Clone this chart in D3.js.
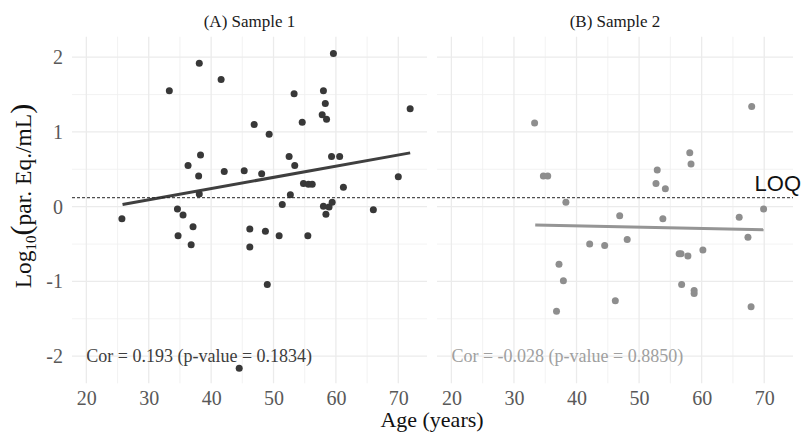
<!DOCTYPE html>
<html>
<head>
<meta charset="utf-8">
<script src="https://cdn.jsdelivr.net/npm/d3@7"></script>
<style>
  body { margin: 0; background: #fff; }
  svg { display: block; }
</style>
</head>
<body>
<script>
// data
var ageA = [33.3, 38.1, 41.6, 59.6, 71.9, 46.9, 49.3, 53.3, 54.6, 58.0, 58.3, 57.8, 58.5,
            36.3, 38.3, 38.0, 38.1, 42.1, 45.3, 48.1, 52.5, 53.4, 54.8, 55.6, 56.2,
            52.7, 51.4, 59.3, 60.6, 61.2, 70.0, 58.0, 58.9, 59.4, 58.4, 66.0, 25.7,
            34.6, 35.5, 34.7, 37.1, 36.8, 46.2, 46.2, 48.7, 50.9, 55.5, 49.0, 44.5];
var logA = [1.55, 1.92, 1.70, 2.05, 1.31, 1.10, 0.97, 1.51, 1.13, 1.55, 1.38, 1.23, 1.17,
            0.55, 0.69, 0.41, 0.17, 0.47, 0.48, 0.44, 0.67, 0.55, 0.31, 0.30, 0.30,
            0.16, 0.03, 0.67, 0.67, 0.26, 0.40, 0.005, -0.004, 0.06, -0.10, -0.04, -0.16,
            -0.03, -0.11, -0.39, -0.27, -0.51, -0.30, -0.54, -0.33, -0.39, -0.39, -1.04, -2.16];

var ageB = [33.3, 34.7, 35.4, 38.3, 68.0, 58.1, 58.3, 52.9, 52.7, 54.2, 69.9, 46.9, 53.8, 66.0,
            42.1, 44.5, 48.1, 67.4, 56.4, 56.7, 57.8, 60.2, 37.2, 37.9, 46.2, 36.8, 56.8,
            58.8, 58.8, 67.9];
var logB = [1.12, 0.41, 0.41, 0.06, 1.34, 0.72, 0.57, 0.49, 0.31, 0.24, -0.03, -0.12, -0.16, -0.14,
            -0.50, -0.52, -0.44, -0.41, -0.63, -0.63, -0.66, -0.58, -0.77, -0.99, -1.26, -1.40, -1.04,
            -1.12, -1.16, -1.34];

// fitted line ends
var fitAgeA = [25.8, 71.9], fitLogA = [0.03, 0.72];
var fitAgeB = [33.4, 69.9], fitLogB = [-0.245, -0.31];

var panelTitles = ["(A) Sample 1", "(B) Sample 2"];
var corLabels = ["Cor = 0.193 (p-value = 0.1834)", "Cor = -0.028 (p-value = 0.8850)"];
var xTicks = [20, 30, 40, 50, 60, 70];
var xMinor = [25, 35, 45, 55, 65];
var yTicks = [-2, -1, 0, 1, 2];
var yMinor = [-1.5, -0.5, 0.5, 1.5];
var loq = 0.12;

var svgWidth = 803, svgHeight = 434;
var svg = d3.select("body").append("svg").attr("width", svgWidth).attr("height", svgHeight);

var plotTop = 36.7, plotBottom = 383.3;
var panelX = [[72, 427], [437, 793]];
var y = d3.scaleLinear().domain([-2.363, 2.274]).range([plotBottom, plotTop]);

var panels = [
  {age: ageA, val: logA, fa: fitAgeA, fv: fitLogA, col: "#383838", line: "#3f3f3f", txt: "#3d3d3d"},
  {age: ageB, val: logB, fa: fitAgeB, fv: fitLogB, col: "#8e8e8e", line: "#959595", txt: "#a0a0a0"}
];

panels.forEach(function(p, i) {
  var x = d3.scaleLinear().domain([17.7, 74.6]).range(panelX[i]);
  var g = svg.append("g");

  // grid
  g.selectAll(".vminor").data(xMinor).enter().append("line")
    .attr("x1", x).attr("x2", x).attr("y1", plotTop).attr("y2", plotBottom)
    .attr("stroke", "#efefef").attr("stroke-width", 0.8);
  g.selectAll(".hminor").data(yMinor).enter().append("line")
    .attr("x1", panelX[i][0]).attr("x2", panelX[i][1]).attr("y1", y).attr("y2", y)
    .attr("stroke", "#efefef").attr("stroke-width", 0.8);
  g.selectAll(".vmajor").data(xTicks).enter().append("line")
    .attr("x1", x).attr("x2", x).attr("y1", plotTop).attr("y2", plotBottom)
    .attr("stroke", "#ebebeb").attr("stroke-width", 1.3);
  g.selectAll(".hmajor").data(yTicks).enter().append("line")
    .attr("x1", panelX[i][0]).attr("x2", panelX[i][1]).attr("y1", y).attr("y2", y)
    .attr("stroke", "#ebebeb").attr("stroke-width", 1.3);

  // x axis labels
  var xAxis = d3.axisBottom(x).tickValues(xTicks).tickSize(0).tickPadding(0);
  var ax = g.append("g").attr("transform", "translate(0," + 391 + ")").call(xAxis);
  ax.select(".domain").remove();
  ax.selectAll("text")
    .attr("dy", "0.71em")
    .style("font-family", "'Liberation Serif', 'DejaVu Serif', serif")
    .style("font-size", "20px").attr("fill", "#595959");

  // panel title
  g.append("text")
    .attr("x", (panelX[i][0] + panelX[i][1]) / 2).attr("y", 26.5)
    .attr("text-anchor", "middle")
    .style("font-family", "'Liberation Serif', serif").style("font-size", "17px")
    .attr("fill", "#1a1a1a")
    .text(panelTitles[i]);

  // fitted line
  g.append("line")
    .attr("x1", x(p.fa[0])).attr("y1", y(p.fv[0]))
    .attr("x2", x(p.fa[1])).attr("y2", y(p.fv[1]))
    .attr("stroke", p.line).attr("stroke-width", 3);

  // points
  g.selectAll(".dot").data(p.age).enter().append("circle")
    .attr("cx", function(d) { return x(d); })
    .attr("cy", function(d, j) { return y(p.val[j]); })
    .attr("r", 3.5)
    .attr("fill", p.col);

  // correlation label
  g.append("text")
    .attr("x", x(20)).attr("y", y(-2)).attr("dy", "0.35em")
    .style("font-family", "'Liberation Serif', serif").style("font-size", "18px")
    .attr("fill", p.txt)
    .text(corLabels[i]);
});

// y axis labels (left panel only)
var yAxis = d3.axisLeft(y).tickValues(yTicks).tickSize(0).tickPadding(0)
  .tickFormat(function(d) { return d; });
var ay = svg.append("g").attr("transform", "translate(63,0)").call(yAxis);
ay.select(".domain").remove();
ay.selectAll("text")
  .style("font-family", "'Liberation Serif', serif")
  .style("font-size", "20px").attr("fill", "#595959");

// LOQ dashed line
svg.append("line")
  .attr("x1", panelX[0][0]).attr("x2", panelX[1][1])
  .attr("y1", y(loq)).attr("y2", y(loq))
  .attr("stroke", "#222").attr("stroke-width", 1).attr("stroke-dasharray", "3,2");
svg.append("text")
  .attr("x", 801).attr("y", y(loq) - 7)
  .attr("text-anchor", "end")
  .style("font-family", "'Liberation Sans', Arial, sans-serif").style("font-size", "22px")
  .attr("fill", "#111")
  .text("LOQ");

// axis titles
svg.append("text")
  .attr("x", 432).attr("y", 427)
  .attr("text-anchor", "middle")
  .style("font-family", "'Liberation Serif', serif").style("font-size", "22px")
  .attr("fill", "#111")
  .text("Age (years)");

var yt = svg.append("text")
  .attr("transform", "translate(31,196)rotate(-90)")
  .attr("text-anchor", "middle")
  .style("font-family", "'Liberation Serif', serif").style("font-size", "23.5px")
  .attr("fill", "#111");
yt.append("tspan").text("Log");
yt.append("tspan").attr("dy", 5).style("font-size", "15px").text("10");
yt.append("tspan").attr("dy", -5).style("font-size", "30px").text("(");
yt.append("tspan").text("par. Eq./mL");
yt.append("tspan").style("font-size", "30px").text(")");
</script>
</body>
</html>
